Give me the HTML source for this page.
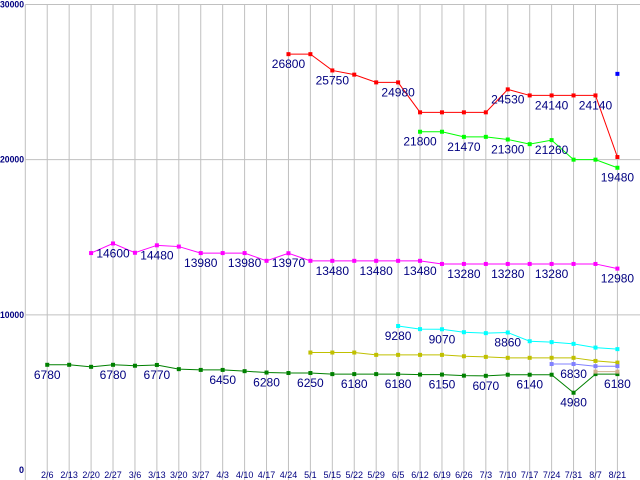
<!DOCTYPE html>
<html><head><meta charset="utf-8"><style>
html,body{margin:0;padding:0;background:#fff;}
svg{display:block;}
text{font-family:"Liberation Sans","DejaVu Sans",sans-serif;}
</style></head><body>
<svg id="chart" width="640" height="480" xmlns="http://www.w3.org/2000/svg"></svg>
<script>
const categories = ["2/6","2/13","2/20","2/27","3/6","3/13","3/20","3/27","4/3","4/10","4/17","4/24","5/1","5/15","5/22","5/29","6/5","6/12","6/19","6/26","7/3","7/10","7/17","7/24","7/31","8/7","8/21"];
const yTicks = [0,10000,20000,30000];
const redStart = 11;
const redValues = [26800,26800,25750,25480,24980,24980,23050,23050,23050,23050,24530,24140,24140,24140,24140,20170];
const redLabels = [11,13,16,21,23,25];
const limeStart = 17;
const limeValues = [21800,21800,21470,21470,21300,21000,21260,20000,20000,19480];
const limeLabels = [17,19,21,23,26];
const magentaStart = 2;
const magentaValues = [13980,14600,14000,14480,14400,13980,13980,13980,13480,13970,13480,13480,13480,13480,13480,13480,13280,13280,13280,13280,13280,13280,13280,13280,12980];
const magentaLabels = [3,5,7,9,11,13,15,17,19,21,23,26];
const cyanStart = 16;
const cyanValues = [9280,9080,9070,8880,8820,8860,8300,8240,8130,7890,7790];
const cyanLabels = [16,18,21];
const oliveStart = 12;
const oliveValues = [7570,7570,7570,7420,7420,7420,7420,7330,7290,7230,7230,7230,7230,7030,6920];
const oliveLabels = [];
const greenStart = 0;
const greenValues = [6780,6780,6650,6780,6720,6770,6500,6450,6450,6370,6280,6250,6250,6180,6180,6180,6180,6150,6150,6080,6070,6140,6140,6140,4980,6180,6180];
const greenLabels = [0,3,5,8,10,12,14,16,18,20,22,24,26];
const violetStart = 23;
const violetValues = [6830,6830,6690,6690];
const violetLabels = [24];
const tanStart = 25;
const tanValues = [6340,6340];
const tanLabels = [];
const blueStart = 26;
const blueValues = [25530];
const blueLabels = [];

const NS = "http://www.w3.org/2000/svg";
const svg = document.getElementById('chart');
const X0 = 25.3, STEP = 21.93, Y0 = 470, Y1 = 4.5, YMAX = 30000;
function xPos(i){ return X0 + STEP*(i+1); }
function yPos(v){ return Y0 - (Y0-Y1)*v/YMAX; }
function mk(tag, attrs){ const e=document.createElementNS(NS,tag); for(const k in attrs) e.setAttribute(k,attrs[k]); svg.appendChild(e); return e; }

for (let i=-1;i<categories.length;i++){
  const g = mk('line',{x1:xPos(i),x2:xPos(i),y1:Y1,y2:480,stroke:'#c0c0c0','stroke-width':1});
  
  
}
yTicks.forEach(t=>{
  if (t>0){
    const g = mk('line',{x1:X0,x2:640,y1:yPos(t),y2:yPos(t),stroke:'#c0c0c0','stroke-width':1});
    
    
  }
  const s = String(t);
  const tx = mk('text',{x:24,y:yPos(t)+3,'text-anchor':'end','font-size':9,fill:'#000080','font-weight':'bold'});
  if (s.length>1){ tx.setAttribute('textLength', s.length*4.8); tx.setAttribute('lengthAdjust','spacingAndGlyphs'); }
  tx.textContent = s;
  
  
});
categories.forEach((c,i)=>{
  const tx = mk('text',{x:xPos(i),y:478,'text-anchor':'middle','font-size':9,fill:'#000080'});
  tx.textContent = c;
  
  
});

function series(name,start,values,labels,color){
  const pts = values.map((v,k)=>[xPos(start+k),yPos(v)]);
  if (pts.length>1){
    const pl = mk('polyline',{points:pts.map(p=>p.join(',')).join(' '),fill:'none',stroke:color,'stroke-width':1});
    
    
  }
  pts.forEach(p=>{
    const r = mk('rect',{x:p[0]-2,y:p[1]-2,width:4,height:4,fill:color});
    
    
  });
  labels.forEach(i=>{
    const k=i-start;
    const tx = mk('text',{x:pts[k][0],y:pts[k][1]+14,'text-anchor':'middle','font-size':12,fill:'#000080'});
    tx.textContent = String(values[k]);
    
    
  });
}
series('red-series',redStart,redValues,redLabels,'#ff0000');
series('lime-series',limeStart,limeValues,limeLabels,'#00ff00');
series('magenta-series',magentaStart,magentaValues,magentaLabels,'#ff00ff');
series('cyan-series',cyanStart,cyanValues,cyanLabels,'#00ffff');
series('olive-series',oliveStart,oliveValues,oliveLabels,'#c0c000');
series('green-series',greenStart,greenValues,greenLabels,'#008000');
series('violet-series',violetStart,violetValues,violetLabels,'#8080ff');
series('tan-series',tanStart,tanValues,tanLabels,'#d0b090');
series('blue-series',blueStart,blueValues,blueLabels,'#0000ff');
</script>
</body></html>
